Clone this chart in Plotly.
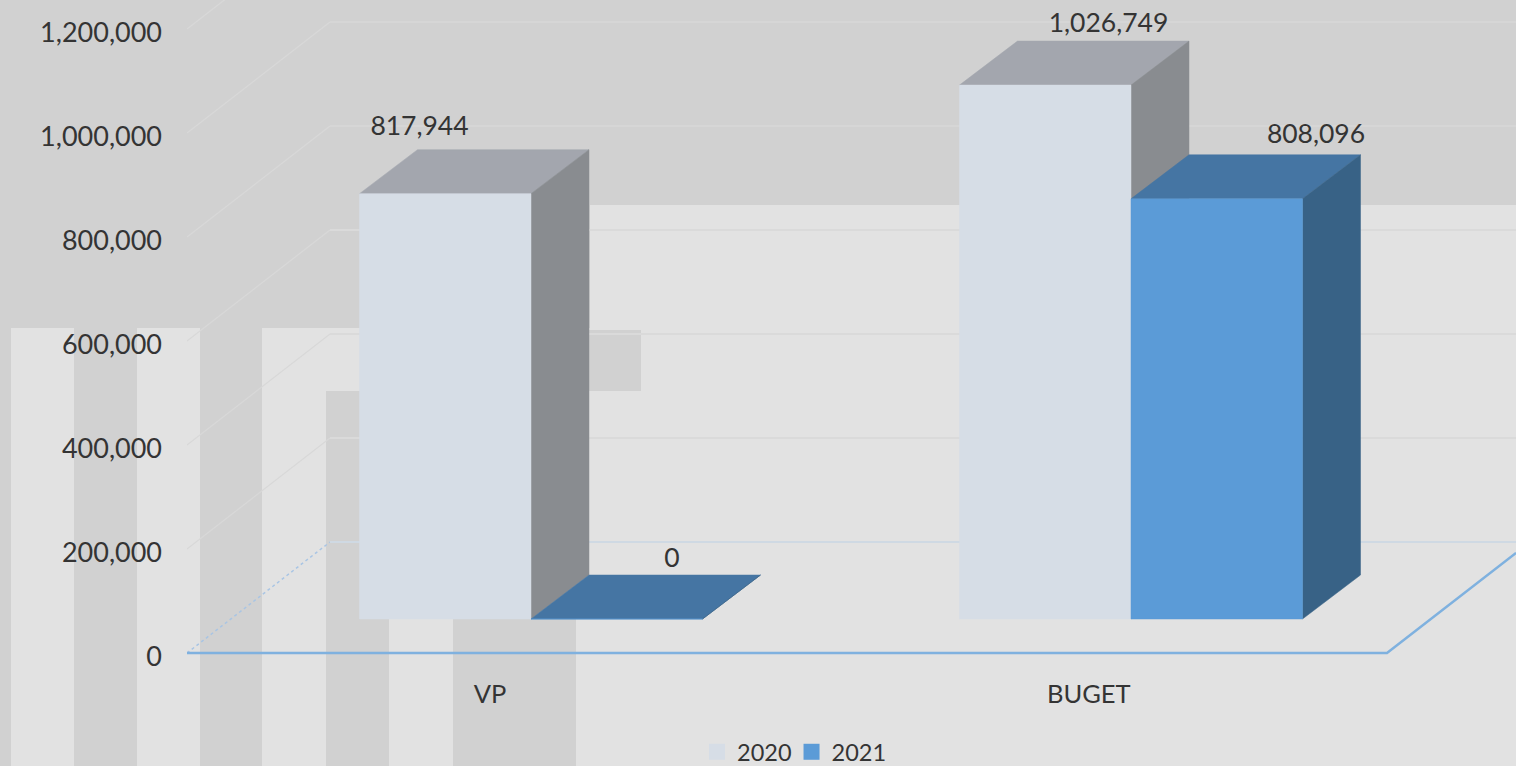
import plotly.graph_objects as go

# ---- data ----
categories = ["VP", "BUGET"]
series_names = ["2020", "2021"]
values_2020 = [817944, 1026749]
values_2021 = [0, 808096]
y_ticks = [0, 200000, 400000, 600000, 800000, 1000000, 1200000]

# ---- canvas / projection constants ----
W, H = 1516, 766
PX_X0, PX_CAT = 187, 600        # pixel of x=0, pixels per category
PX_Y0, PX_PER_V = 653, 104 / 200000
FONT = "Lato"
TEXT = "#343434"
LIGHT, DARK = "#e2e2e2", "#d1d1d1"


def dx(px):
    return px / PX_CAT


def dy(px):
    return px / PX_PER_V


FLOOR_DX, FLOOR_DY = dx(143), dy(111)   # full floor depth
DEPTH_X, DEPTH_Y = dx(58), dy(44)       # bar depth
FRONT_X, FRONT_Y = dx(44), dy(34)       # bar front offset from the axis
BAR_W = dx(171.5)
X_MAX = (W - PX_X0) / PX_CAT
Y_TOP = PX_Y0 / PX_PER_V
Y_BOT = -(H - PX_Y0) / PX_PER_V
LABEL_SHIFT = dy(3.5)                   # tick labels sit a little below their gridlines

colors = {
    "2020": dict(front="#d6dde6", top="#a3a6ae", side="#898c90"),
    "2021": dict(front="#5b9bd7", top="#4575a3", side="#386286"),
}
# label placement relative to the bar's front-left corner, in pixels
label_dx = {"2020": [60, 149], "2021": [141, 185]}
label_dy = {"2020": [65, 60], "2021": [59, 62]}

fig = go.Figure()


def line(xs, ys, color, width=2, dash=None):
    fig.add_trace(go.Scatter(x=xs, y=ys, mode="lines", showlegend=False, hoverinfo="skip",
                             line=dict(color=color, width=width, dash=dash)))


def poly(xs, ys, color):
    fig.add_trace(go.Scatter(x=xs + xs[:1], y=ys + ys[:1], mode="lines", fill="toself", fillcolor=color,
                             line=dict(color=color, width=0.5), showlegend=False, hoverinfo="skip"))


# walls: gridlines on the back wall and diagonals on the side wall
for t in y_ticks:
    wall = "#cfd9e3" if t == 0 else ("#dadada" if t < 800000 else "#d6d6d6")
    side = "#a9c5e4" if t == 0 else "#d8d8d8"
    line([0, FLOOR_DX], [t, t + FLOOR_DY], side, 1.5 if t == 0 else 1.2, "dot" if t == 0 else None)
    line([FLOOR_DX, X_MAX], [t + FLOOR_DY, t + FLOOR_DY], wall, 2)

# floor edge
extra = (W - PX_X0 - 2 * PX_CAT) / PX_CAT
line([0, 2, 2 + extra], [0, 0, extra / FLOOR_DX * FLOOR_DY], "#7fb1df", 2.5)

# 3D bars
series_values = {"2020": values_2020, "2021": values_2021}
for i, cat in enumerate(categories):
    for j, name in enumerate(series_names):
        v = series_values[name][i]
        c = colors[name]
        x0 = i + 0.5 + FRONT_X - BAR_W + j * BAR_W
        x1 = x0 + BAR_W
        y0 = FRONT_Y
        y1 = y0 + v
        poly([x0, x1, x1 + DEPTH_X, x0 + DEPTH_X], [y1, y1, y1 + DEPTH_Y, y1 + DEPTH_Y], c["top"])
        poly([x1, x1 + DEPTH_X, x1 + DEPTH_X, x1], [y0, y0 + DEPTH_Y, y1 + DEPTH_Y, y1], c["side"])
        poly([x0, x1, x1, x0], [y0, y0, y1, y1], c["front"])

# value labels
for i, cat in enumerate(categories):
    for j, name in enumerate(series_names):
        v = series_values[name][i]
        x0 = i + 0.5 + FRONT_X - BAR_W + j * BAR_W
        fig.add_trace(go.Scatter(
            x=[x0 + dx(label_dx[name][i])], y=[FRONT_Y + v + dy(label_dy[name][i])],
            mode="text", text=[f"{v:,}"], textposition="middle center",
            textfont=dict(family=FONT, size=26.5, color=TEXT),
            showlegend=False, hoverinfo="skip"))

# legend entries
for name in series_names:
    fig.add_trace(go.Scatter(x=[None], y=[None], mode="markers", name=name,
                             marker=dict(symbol="square", size=16, color=colors[name]["front"])))

# trace that keeps the labelled value axis alive
fig.add_trace(go.Scatter(x=[None], y=[None], yaxis="y2", mode="lines", showlegend=False, hoverinfo="skip"))


def rect(x0, y0, x1, y1, color=DARK):
    return dict(type="rect", xref="paper", yref="paper", layer="below",
                x0=x0 / W, x1=x1 / W, y0=1 - y1 / H, y1=1 - y0 / H,
                fillcolor=color, line=dict(width=0))


background = [
    rect(0, 0, W, 205),
    rect(0, 205, 590, 328),
    rect(0, 328, 11, H),
    rect(74, 328, 137, H),
    rect(200, 328, 262, H),
    rect(326, 391, 389, H),
    rect(453, 391, 576, H),
    rect(589, 330, 641, 391),
]

fig.update_layout(
    width=W, height=H, autosize=False,
    margin=dict(l=0, r=0, t=0, b=0, pad=0, autoexpand=False),
    paper_bgcolor=LIGHT, plot_bgcolor="rgba(0,0,0,0)",
    shapes=background,
    font=dict(family=FONT, color=TEXT, size=26.5),
    showlegend=True,
    legend=dict(orientation="h", x=702 / W, xanchor="left", y=-8 / H, yanchor="bottom",
                bgcolor="rgba(0,0,0,0)", font=dict(family=FONT, size=23.5, color=TEXT),
                itemwidth=30, tracegroupgap=0, indentation=-5),
    xaxis=dict(domain=[PX_X0 / W, 1], range=[0, X_MAX], showgrid=False, zeroline=False, showline=False,
               automargin=False, anchor="free", position=(H - PX_Y0) / H,
               tickmode="array", tickvals=[0.505, 1.503], ticktext=categories,
               ticks="", ticklabelstandoff=23, tickfont=dict(family=FONT, size=25.5, color=TEXT)),
    yaxis=dict(domain=[0, 1], range=[Y_BOT, Y_TOP], visible=False, automargin=False),
    yaxis2=dict(domain=[0, 1], range=[Y_BOT + LABEL_SHIFT, Y_TOP + LABEL_SHIFT], overlaying="y", anchor="x",
                side="left", showgrid=False, zeroline=False, showline=False,
                automargin=False, tickmode="array", tickvals=y_ticks, ticktext=[f"{t:,}" for t in y_ticks],
                ticks="", ticklabelstandoff=24, tickfont=dict(family=FONT, size=27, color=TEXT)),
)

fig.write_html("out.html", config={"displayModeBar": False}, post_script="document.body.style.margin='0';")
